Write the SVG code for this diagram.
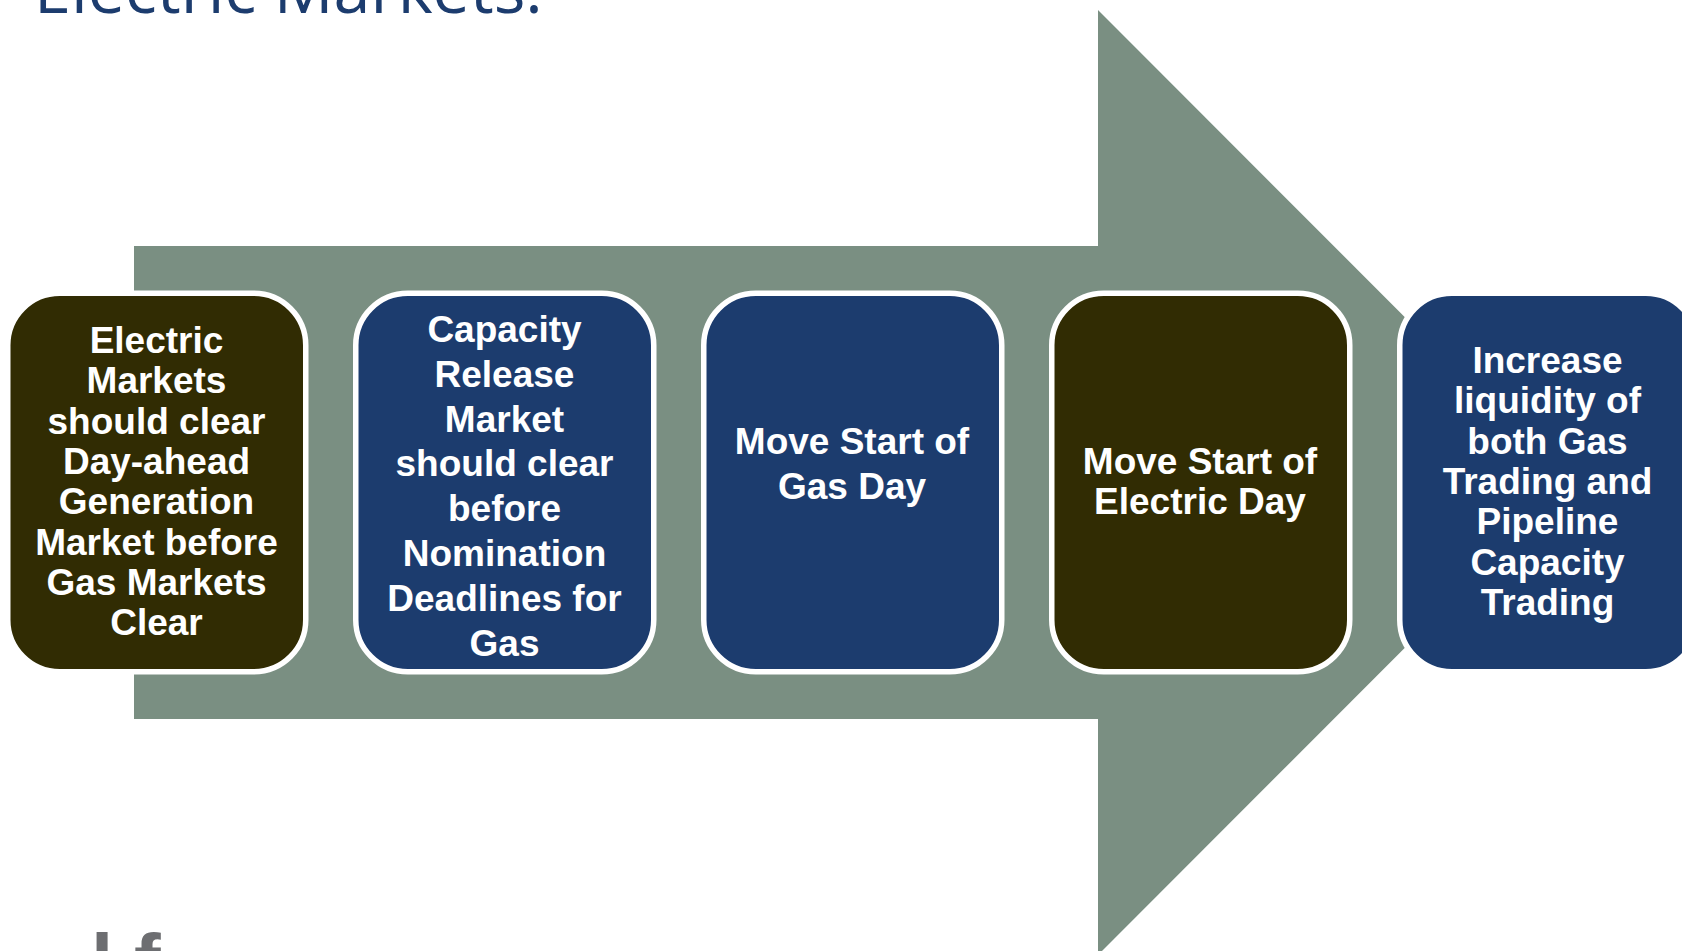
<svg xmlns="http://www.w3.org/2000/svg" width="1682" height="951" viewBox="0 0 1682 951">
<style>
.box{stroke:#fff;stroke-width:5.500}
.olive{fill:#312c03}
.navy{fill:#1c3c6e}
.t{font-family:"Liberation Sans",Arial,sans-serif;font-weight:700;font-size:37px;fill:#fff;text-anchor:middle}
.title{font-family:"Open Sans","Noto Sans",sans-serif;font-size:66.500px;fill:#1c3c6e}
.logo{font-family:"Liberation Sans",Arial,sans-serif;font-weight:700;font-size:80px;fill:#6d6e71}
</style>
<rect width="1682" height="951" fill="#fff"/>
<text class="title" x="34" y="13">Electric Markets:</text>
<g id="connectors">
<polygon points="134,246 1098,246 1098,10 1570,482.500 1098,955 1098,719 134,719" fill="#7a8f82"/>
</g>
<g id="node1"><rect class="box olive" x="7.750" y="293.250" width="298" height="378.500" rx="52"/>
<text class="t"><tspan x="156.500" y="353">Electric</tspan><tspan x="156.500" y="393.300">Markets</tspan><tspan x="156.500" y="433.600">should clear</tspan><tspan x="156.500" y="473.900">Day-ahead</tspan><tspan x="156.500" y="514.200">Generation</tspan><tspan x="156.500" y="554.500">Market before</tspan><tspan x="156.500" y="594.800">Gas Markets</tspan><tspan x="156.500" y="635.100">Clear</tspan></text></g>
<g id="node2"><rect class="box navy" x="355.750" y="293.250" width="298" height="378.500" rx="52"/>
<text class="t"><tspan x="504.500" y="342">Capacity</tspan><tspan x="504.500" y="386.800">Release</tspan><tspan x="504.500" y="431.600">Market</tspan><tspan x="504.500" y="476.400">should clear</tspan><tspan x="504.500" y="521.200">before</tspan><tspan x="504.500" y="566">Nomination</tspan><tspan x="504.500" y="610.800">Deadlines for</tspan><tspan x="504.500" y="655.600">Gas</tspan></text></g>
<g id="node3"><rect class="box navy" x="703.750" y="293.250" width="298" height="378.500" rx="52"/>
<text class="t"><tspan x="852" y="454">Move Start of</tspan><tspan x="852" y="498.800">Gas Day</tspan></text></g>
<g id="node4"><rect class="box olive" x="1051.750" y="293.250" width="298" height="378.500" rx="52"/>
<text class="t"><tspan x="1200" y="474">Move Start of</tspan><tspan x="1200" y="514">Electric Day</tspan></text></g>
<g id="node5"><rect class="box navy" x="1399.750" y="293.250" width="298" height="378.500" rx="52"/>
<text class="t"><tspan x="1547.500" y="372.500">Increase</tspan><tspan x="1547.500" y="413">liquidity of</tspan><tspan x="1547.500" y="453.500">both Gas</tspan><tspan x="1547.500" y="493.500">Trading and</tspan><tspan x="1547.500" y="534">Pipeline</tspan><tspan x="1547.500" y="574.500">Capacity</tspan><tspan x="1547.500" y="614.900">Trading</tspan></text></g>
<text class="logo" x="32" y="994" fill-opacity="0.35">a</text>
<text class="logo" x="91" y="990">l</text>
<text class="logo" x="134" y="990">f</text>
</svg>
